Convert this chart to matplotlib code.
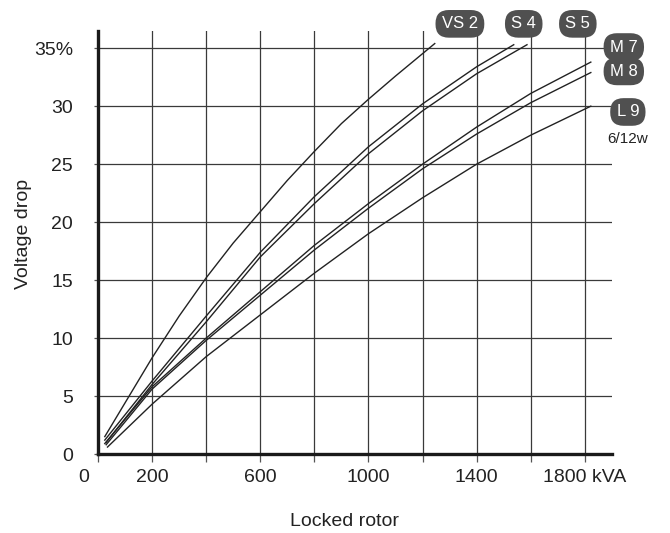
import matplotlib
matplotlib.use("Agg")
import matplotlib.pyplot as plt
import matplotlib.transforms as mtransforms

plt.rcParams["font.family"] = ["Liberation Sans", "DejaVu Sans"]

# curves (kVA locked rotor, % voltage drop)
kva_vs2 = [25, 200, 300, 400, 500, 600, 700, 800, 900, 1000, 1100, 1245]
pct_vs2 = [1.5, 8.3, 11.9, 15.2, 18.2, 20.9, 23.6, 26.1, 28.5, 30.6, 32.6, 35.4]
kva_s4 = [25, 200, 400, 600, 800, 1000, 1200, 1400, 1537]
pct_s4 = [1.2, 6.3, 11.9, 17.4, 22.2, 26.5, 30.2, 33.4, 35.3]
kva_s5 = [30, 200, 400, 600, 800, 1000, 1200, 1400, 1586]
pct_s5 = [1.0, 6.0, 11.4, 17.0, 21.6, 25.9, 29.6, 32.8, 35.3]
kva_m7 = [25, 200, 400, 600, 800, 1000, 1200, 1400, 1600, 1822]
pct_m7 = [0.9, 5.8, 10.0, 14.0, 18.0, 21.6, 25.0, 28.2, 31.1, 33.8]
kva_m8 = [30, 200, 400, 600, 800, 1000, 1200, 1400, 1600, 1822]
pct_m8 = [0.8, 5.6, 9.8, 13.7, 17.6, 21.2, 24.6, 27.6, 30.3, 32.9]
kva_l9 = [35, 200, 400, 600, 800, 1000, 1200, 1400, 1600, 1822]
pct_l9 = [0.6, 4.3, 8.4, 12.0, 15.6, 19.0, 22.1, 25.0, 27.5, 30.0]

curve_names = ["VS 2", "S 4", "S 5", "M 7", "M 8", "L 9"]
series = [(kva_vs2, pct_vs2), (kva_s4, pct_s4), (kva_s5, pct_s5),
          (kva_m7, pct_m7), (kva_m8, pct_m8), (kva_l9, pct_l9)]

x_ticks = list(range(0, 2000, 200))
x_labels = ["0", "200", "", "600", "", "1000", "", "1400", "", "1800 kVA"]
y_ticks = [0, 5, 10, 15, 20, 25, 30, 35]
y_labels = ["0", "5", "10", "15", "20", "25", "30", "35%"]

# where the name tags sit (data coords, outside the plot area)
tag_pos = [(1338, 37.1), (1574, 37.1), (1774, 37.1),
           (1944, 35.1), (1944, 33.0), (1959, 29.5)]

fig = plt.figure(figsize=(6.7, 5.33), dpi=100)
ax = fig.add_axes([0.1463, 0.1482, 0.767, 0.794])

for kva, pct in series:
    ax.plot(kva, pct, color="#222222", linewidth=1.0, zorder=3)

ax.set_xlim(0, 1900)
ax.set_ylim(0, 36.5)
ax.set_xticks(x_ticks)
ax.set_xticklabels(x_labels)
ax.set_yticks(y_ticks)
ax.set_yticklabels(y_labels)
ax.grid(True, color="#3a3a3a", linewidth=0.9)
ax.set_axisbelow(True)

for side in ["top", "right"]:
    ax.spines[side].set_visible(False)
ax.spines["left"].set_linewidth(2.4)
ax.spines["bottom"].set_linewidth(2.4)
ax.spines["left"].set_color("#1a1a1a")
ax.spines["bottom"].set_color("#1a1a1a")

ax.tick_params(axis="x", length=6, width=0.9, color="#555555", pad=5,
               labelsize=14, labelcolor="#222222")
ax.tick_params(axis="y", length=3, width=0.9, color="#555555", pad=15,
               labelsize=14, labelcolor="#222222")

# nudge the x "0" label to the left like the original
shift = mtransforms.ScaledTranslation(-14 / 100, 0, fig.dpi_scale_trans)
lab0 = ax.get_xticklabels()[0]
lab0.set_transform(lab0.get_transform() + shift)

ax.set_xlabel("Locked rotor", fontsize=14, color="#222222")
ax.xaxis.set_label_coords(0.48, -0.14)
ax.set_ylabel("Voltage drop", fontsize=14, color="#222222")
ax.yaxis.set_label_coords(-0.128, 0.52)

for name, (tx, ty) in zip(curve_names, tag_pos):
    ax.text(tx, ty, name, ha="center", va="center", fontsize=12,
            color="white", clip_on=False, zorder=5,
            bbox=dict(boxstyle="round,pad=0.38,rounding_size=0.8",
                      facecolor="#505050", edgecolor="none"))
ax.text(1959, 27.2, "6/12w", ha="center", va="center", fontsize=11,
        color="#222222", clip_on=False)

fig.savefig("out.png", dpi=100)
